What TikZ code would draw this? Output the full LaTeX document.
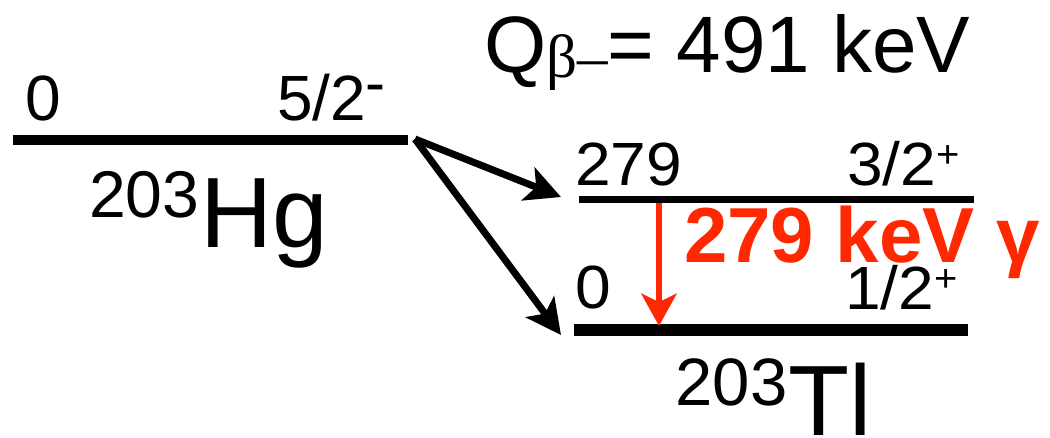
\documentclass[tikz,border=0pt]{standalone}
\usepackage{fontspec}
\setmainfont{Liberation Sans}
\newfontfamily\betafont{Liberation Serif}
\usetikzlibrary{arrows.meta}
\definecolor{gred}{RGB}{255,40,0}
\newcommand\setfs[1]{\fontsize{#1}{#1}\selectfont}
\newcommand\wide[1]{\scalebox{1.05}[1]{#1}}
\begin{document}
\begin{tikzpicture}[x=0.025cm,y=-0.025cm,
  lbl/.style={inner sep=0pt,outer sep=0pt,anchor=base west},
  level/.style={line cap=butt},
  decay/.style={line width=5pt,-{Stealth[length=25pt,width=25pt,inset=6pt]}},
  gam/.style={gred,line width=4.3pt,-{Stealth[length=23pt,width=25pt,inset=6pt]}}]
\useasboundingbox (0,0) rectangle (1050,437);
% Q value
\node[lbl] (q) at (484,72) {\setfs{56.9pt}Q\raisebox{-3.9pt}{\betafont\setfs{43.4pt}β–}= 491 keV};
% Hg level
\coordinate (hgL) at (13,140);
\coordinate (hgR) at (408,140);
\draw[level,line width=7.8pt] (hgL) -- (hgR);
\node[lbl] (hg0) at (25,120) {\setfs{45.5pt}0};
\node[lbl] (hgJ) at (277,120) {\setfs{45.5pt}5/2\raisebox{11.4pt}{\setfs{42.7pt}-}};
\node[lbl] (hgN) at (89,217) {\setfs{47pt}203};
\node[lbl] (hgS) at (200,247) {\setfs{71.1pt}Hg};
% Tl levels
\coordinate (tuL) at (579,199.5);
\coordinate (tuR) at (974,199.5);
\draw[level,line width=5pt] (tuL) -- (tuR);
\coordinate (tlL) at (574,330);
\coordinate (tlR) at (968,330);
\draw[level,line width=8.5pt] (tlL) -- (tlR);
\node[lbl] (tuE) at (575,185) {\wide{\setfs{43.4pt}279}};
\node[lbl] (tuJ) at (847,185) {\wide{\setfs{43.4pt}3/2\raisebox{12.4pt}{\setfs{27pt}+}}};
\node[lbl] (tlE) at (575,308) {\wide{\setfs{43.4pt}0}};
\node[lbl] (tlJ) at (845,309) {\wide{\setfs{43.4pt}1/2\raisebox{12.4pt}{\setfs{27pt}+}}};
\node[lbl] (tlN) at (675.5,405) {\setfs{47.7pt}203};
\node[lbl] (tlS) at (788,435) {\setfs{71.1pt}Tl};
% decay arrows
\coordinate (bstart) at (415,139);
\coordinate (bend1) at (561,197);
\coordinate (bend2) at (561,335);
\draw[decay] (bstart) -- (bend1);
\draw[decay] (bstart) -- (bend2);
% gamma
\coordinate (gtop) at (659,203);
\coordinate (gbot) at (659,326);
\draw[gam] (gtop) -- (gbot);
\node[lbl,text=gred] (glab) at (684,262) {\setfs{55.5pt}\bfseries 279 keV γ};
\end{tikzpicture}
\end{document}
